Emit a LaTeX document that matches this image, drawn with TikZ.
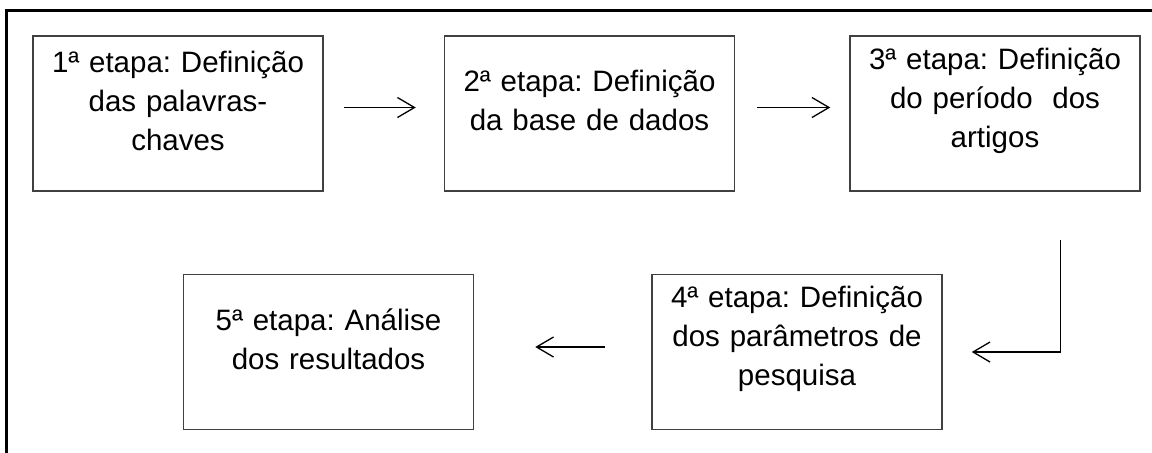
\documentclass[tikz,border=0pt]{standalone}
\usepackage{fontspec}
\setmainfont{Liberation Sans}
\usetikzlibrary{positioning, calc, arrows.meta}
\frenchspacing

\begin{document}
\begin{tikzpicture}[x=1pt, y=1pt,
                etapa/.style={
                  draw=black!75, line width=0.75pt,
                  minimum width=145pt, minimum height=77.5pt,
                  text width=140pt, align=center, inner sep=0pt,
                  font=\fontsize{14.75pt}{19.5pt}\selectfont,
                  execute at end node={\endgraf\vspace*{13pt}} % sobe o texto na caixa
                },
                seta/.style={
                  line width=0.65pt, -{Straight Barb[length=8.5pt,width=10pt]}
                }
                ]
  \useasboundingbox (0,0) rectangle (576,-226);
  \draw[line width=1.35pt] (3.35,-5.25) rectangle (600,-240);

  \node [etapa] (e1) at (89,-56.75) {1ª etapa: Definição\\ das palavras-\\ chaves};
  \node [etapa, right=60pt of e1] (e2) {2ª etapa: Definição\\ da base de dados};
  \node [etapa, right=57pt of e2] (e3) {3ª etapa: Definição\\ do período\ \ dos\\ artigos};
  \node [etapa, below=41pt of e3, xshift=-99pt] (e4) {4ª etapa: Definição\\ dos parâmetros de\\ pesquisa};
  \node [etapa, left=88.5pt of e4] (e5) {5ª etapa: Análise\\ dos resultados};

  \coordinate (k1) at ($(e3.south)+(32.75,-24)$);
  \coordinate (k2) at ($(e4.east)+(14.5,0)$);

  \draw[seta, shorten <=10pt, shorten >=14pt] ($(e1.east)+(0,3)$) -- ($(e2.west)+(0,3)$);
  \draw[seta, shorten <=11pt, shorten >=9.5pt] ($(e2.east)+(0,3)$) -- ($(e3.west)+(0,3)$);
  \draw[seta] (k1) |- (k2);
  \draw[seta, shorten <=23pt, shorten >=30.5pt] ($(e4.west)+(0,2.5)$) -- ($(e5.east)+(0,2.5)$);
\end{tikzpicture}
\end{document}
